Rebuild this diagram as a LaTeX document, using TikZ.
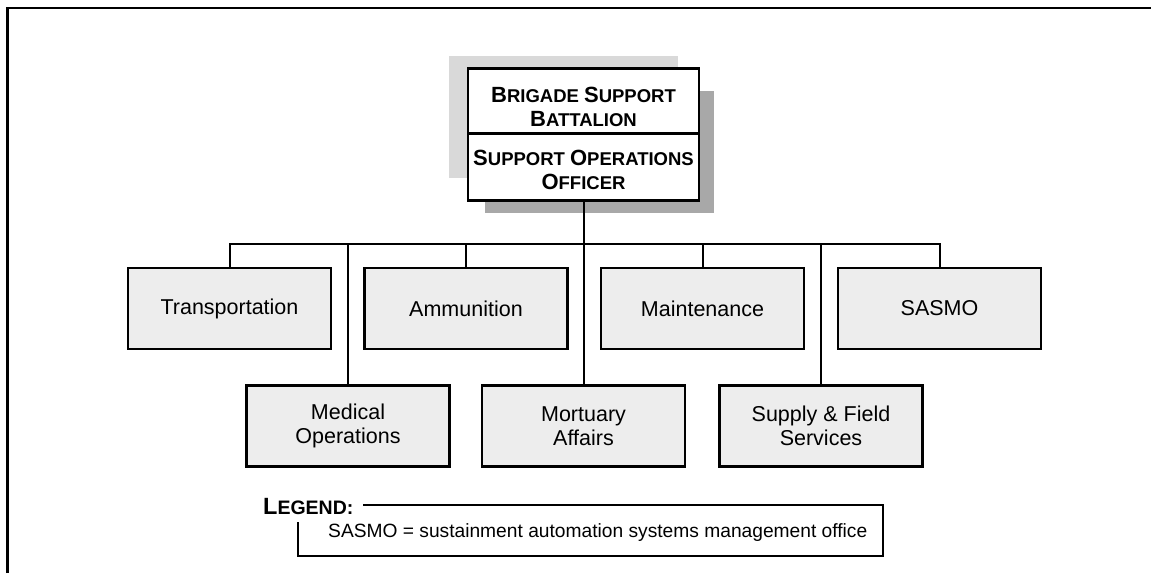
\documentclass[tikz,border=0pt]{standalone}
\usepackage{fontspec}
\setmainfont{Liberation Sans}

\definecolor{unitfill}{gray}{0.93}
\definecolor{shadelight}{gray}{0.85}
\definecolor{shadedark}{gray}{0.66}

% big first letter, smaller caps after it
\newcommand{\capsword}[2]{{\fontsize{22}{23.5}\selectfont #1}{\fontsize{18.5}{23.5}\selectfont #2}}

\begin{document}
\begin{tikzpicture}[x=1pt,y=-1pt]

      \useasboundingbox (0,0) rectangle (1151,573);
      \draw[line width=2.5pt] (7.5,573) -- (7.5,8) -- (1151,8);

      % shadows behind the header
      \fill[shadelight] (449,56) rectangle (678,178);
      \fill[shadedark] (485,91) rectangle (714,213);

      \begin{scope}[every node/.style={draw, fill=white, line width=2.4pt, minimum width=231pt,
          inner sep=0pt, align=center, font=\bfseries\fontsize{18.5}{23.5}\selectfont}]
        \node[minimum height=65pt] (bsb) at (583.5,101) {\rule{0pt}{27pt}\capsword{B}{RIGADE} \capsword{S}{UPPORT}\\\capsword{B}{ATTALION}};
        \node[minimum height=67pt] (soo) at (583.5,167) {\rule{0pt}{21pt}\capsword{S}{UPPORT} \capsword{O}{PERATIONS}\\\capsword{O}{FFICER}};
      \end{scope}

      \begin{scope}[every node/.style={draw, fill=unitfill, line width=2.4pt, minimum width=203pt,
          minimum height=81pt, align=center, font=\fontsize{21.5}{23.5}\selectfont}]
        \node (trans)    at (229.5,308.5) {Transportation};
        \node (ammo)     at (466,308.5)   {Ammunition};
        \node (maint)    at (702.5,308.5) {Maintenance};
        \node (sasmo)    at (939.5,308.5) {SASMO};
        \node (medical)  at (348,426)     {Medical\\Operations};
        \node (mortuary) at (583.5,426)   {Mortuary\\Affairs};
        \node (supply)   at (821,426)     {Supply \& Field\\Services};
      \end{scope}

      \coordinate (bus) at (583.5,244);

      \begin{scope}[line width=2pt]
        \draw (trans.north) -- (trans.north |- bus) -- (sasmo.north |- bus) -- (sasmo.north);
        \begin{scope}[every edge/.style={draw}]
          \path (soo.south) edge (mortuary.north);
          \foreach \unit in {ammo,maint,medical,supply}
            \path (\unit.north |- bus) edge (\unit.north);
        \end{scope}
      \end{scope}

      % legend
      \node[anchor=base west, inner sep=0pt, font=\bfseries\fontsize{19.5}{23.5}\selectfont] (legend) at (263,514)
        {{\fontsize{23.5}{25}\selectfont L}EGEND:};
      \node[anchor=base west, inner sep=0pt, font=\fontsize{19.2}{21}\selectfont] (key) at (328,537)
        {SASMO = sustainment automation systems management office};
      \draw[line width=1.8pt] (363,505) -- (883,505) -- (883,556) -- (298,556) -- (298,522);

    \end{tikzpicture}
\end{document}
